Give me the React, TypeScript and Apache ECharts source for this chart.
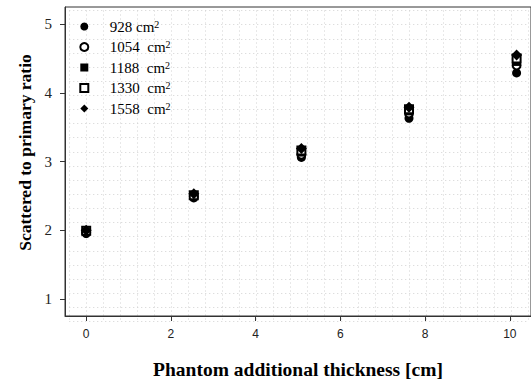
import React, { useEffect, useRef } from "react";
import * as echarts from "echarts";

const thickness = [0, 2.54, 5.08, 7.62, 10.16];
const seriesNames = ["928 cm", "1054  cm", "1188  cm", "1330  cm", "1558  cm"];
const s928 = [1.95, 2.47, 3.06, 3.63, 4.29];
const s1054 = [1.97, 2.49, 3.1, 3.7, 4.4];
const s1188 = [1.98, 2.5, 3.13, 3.73, 4.45];
const s1330 = [1.99, 2.51, 3.16, 3.76, 4.5];
const s1558 = [2.0, 2.53, 3.19, 3.79, 4.55];
const seriesValues = [s928, s1054, s1188, s1330, s1558];
const symbols = ["circle", "emptyCircle", "rect", "emptyRect", "diamond"];
const symbolSizes = [9, 8, 8, 8, 11];
const xTicks = [0, 2, 4, 6, 8, 10];
const yTicks = [1, 2, 3, 4, 5];

const SERIF = "'Liberation Serif', 'Times New Roman', serif";
const SANS = "'Liberation Sans', Arial, sans-serif";

export default function App() {
  const ref = useRef<HTMLDivElement>(null);
  useEffect(() => {
    if (!ref.current) return;
    const chart = echarts.init(ref.current, undefined, { renderer: "svg" });
    const gridLine = { show: true, lineStyle: { color: "#d2d2d2", type: [1, 3], width: 1 } };
    chart.setOption({
      animation: false,
      backgroundColor: "#fff",
      grid: [
        { left: 65, top: 7, width: 467, height: 318, show: true, borderColor: "#333", borderWidth: 1, backgroundColor: "transparent", z: 3 },
        { left: 69.25, top: 10.53, width: 458.5, height: 310.9, show: false },
      ],
      legend: {
        orient: "vertical",
        left: 74.3,
        top: 14,
        itemWidth: 8,
        itemHeight: 8,
        itemGap: 5.5,
        data: seriesNames.map((n, i) => ({ name: n, icon: symbols[i], itemStyle: { borderWidth: symbols[i].startsWith("empty") ? 1 : 0, borderColor: "#000", color: "#000" } })),
        formatter: (name: string) => name + "{sup|2}",
        textStyle: {
          fontFamily: SERIF,
          fontSize: 15,
          color: "#000",
          padding: [0, 0, 0, 16.5],
          rich: { sup: { fontFamily: SERIF, fontSize: 10, verticalAlign: "top", color: "#000" } },
        },
      },
      xAxis: [
        {
          type: "value",
          gridIndex: 0,
          min: -0.5,
          max: 10.5,
          axisLine: { show: true, onZero: false, lineStyle: { color: "#333" } },
          axisTick: { show: true, inside: false, length: 5, customValues: xTicks, lineStyle: { color: "#333" } },
          axisLabel: { show: true, customValues: xTicks, margin: 12, fontFamily: SANS, fontSize: 12, color: "#222" },
          splitLine: { show: false },
          name: "Phantom additional thickness [cm]",
          nameLocation: "middle",
          nameGap: 43,
          nameTextStyle: { fontFamily: SERIF, fontWeight: "bold", fontSize: 19.5, color: "#000" },
        },
        {
          type: "value",
          gridIndex: 1,
          min: -0.4,
          max: 10.4,
          interval: 0.4,
          axisLine: { show: false },
          axisTick: { show: false },
          axisLabel: { show: false },
          splitLine: gridLine,
        },
      ],
      yAxis: [
        {
          type: "value",
          gridIndex: 0,
          min: 0.75,
          max: 5.25,
          axisLine: { show: true, onZero: false, lineStyle: { color: "#333" } },
          axisTick: { show: true, inside: false, length: 5, customValues: yTicks, lineStyle: { color: "#333" } },
          axisLabel: { show: true, customValues: yTicks, margin: 13, fontFamily: SERIF, fontSize: 15, color: "#222" },
          splitLine: { show: false },
          name: "Scattered to primary ratio",
          nameLocation: "middle",
          nameGap: 29,
          nameTextStyle: { fontFamily: SERIF, fontWeight: "bold", fontSize: 17.5, color: "#000", padding: [0, 0, 0, 18] },
        },
        {
          type: "value",
          gridIndex: 1,
          min: 0.8,
          max: 5.2,
          interval: 0.2,
          axisLine: { show: false },
          axisTick: { show: false },
          axisLabel: { show: false },
          splitLine: gridLine,
        },
      ],
      series: seriesValues.map((vals, i) => ({
        type: "scatter",
        name: seriesNames[i],
        xAxisIndex: 0,
        yAxisIndex: 0,
        symbol: symbols[i],
        symbolSize: symbolSizes[i],
        itemStyle: { color: "#000", borderColor: "#000", borderWidth: symbols[i].startsWith("empty") ? 1 : 0, opacity: 1 },
        data: thickness.map((x, j) => [x, vals[j]]),
        z: 4,
      })),
    });
    return () => chart.dispose();
  }, []);
  return <div ref={ref} style={{ width: 531, height: 384, position: "absolute", left: 0, top: 0 }} />;
}
